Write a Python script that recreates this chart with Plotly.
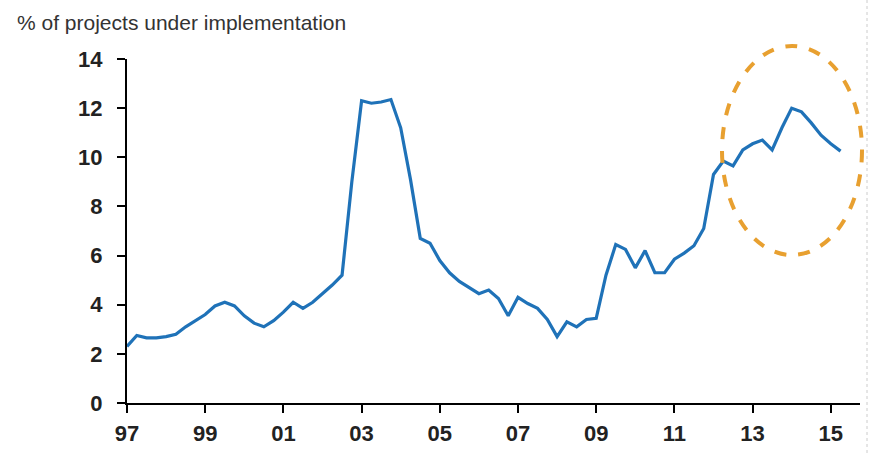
import plotly.graph_objects as go

# Quarterly data, 1997Q1 .. 2015Q2
start_year = 1997.0
values = [2.3, 2.75, 2.65, 2.65, 2.7, 2.8, 3.1, 3.35, 3.6, 3.95, 4.1, 3.95,
          3.55, 3.25, 3.1, 3.35, 3.7, 4.1, 3.85, 4.1, 4.45, 4.8, 5.2, 9.0,
          12.3, 12.2, 12.25, 12.35, 11.2, 9.1, 6.7, 6.5, 5.8, 5.3, 4.95, 4.7,
          4.45, 4.6, 4.25, 3.55, 4.3, 4.05, 3.85, 3.4, 2.7, 3.3, 3.1, 3.4,
          3.45, 5.2, 6.45, 6.25, 5.5, 6.2, 5.3, 5.3, 5.85, 6.1, 6.4, 7.1,
          9.3, 9.85, 9.65, 10.3, 10.55, 10.7, 10.3, 11.2, 12.0, 11.85, 11.4, 10.9,
          10.55, 10.25]
years = [start_year + 0.25 * i for i in range(len(values))]

tick_vals = [1997, 1999, 2001, 2003, 2005, 2007, 2009, 2011, 2013, 2015]
tick_text = ["97", "99", "01", "03", "05", "07", "09", "11", "13", "15"]
y_ticks = [0, 2, 4, 6, 8, 10, 12, 14]
title_text = "% of projects under implementation"

W, H = 871, 453
L, R, T, B = 127, 11, 59, 50
pw, ph = W - L - R, H - T - B

def px_to_paper_x(px):
    return (px - L) / pw

def px_to_paper_y(py):
    return (H - B - py) / ph

fig = go.Figure()
fig.add_trace(go.Scatter(x=years, y=values, mode="lines",
                         line=dict(color="#1f72b8", width=3.2),
                         hoverinfo="skip"))

tick_font = dict(family="Liberation Sans Narrow, Arial Narrow, Liberation Sans, Arial",
                 size=22, color="#222222", weight="bold")

fig.update_layout(
    width=W, height=H,
    margin=dict(l=L, r=R, t=T, b=B, autoexpand=False),
    paper_bgcolor="white", plot_bgcolor="white",
    showlegend=False,
    xaxis=dict(range=[1997, 1997 + (860 - 127) / 39.1],
               tickvals=tick_vals, ticktext=tick_text,
               ticks="outside", ticklen=8, tickwidth=2, tickcolor="black",
               showline=True, linecolor="black", linewidth=2,
               showgrid=False, zeroline=False, ticklabelstandoff=2,
               automargin=False, tickfont=tick_font),
    yaxis=dict(range=[0, 14], tickvals=y_ticks,
               ticks="outside", ticklen=8, tickwidth=2, tickcolor="black",
               showline=True, linecolor="black", linewidth=2,
               showgrid=False, zeroline=False, ticklabelstandoff=10,
               automargin=False, tickfont=tick_font),
)

fig.add_annotation(text=title_text, xref="paper", yref="paper",
                   x=px_to_paper_x(15), y=px_to_paper_y(22),
                   xanchor="left", yanchor="middle", showarrow=False,
                   font=dict(family="Liberation Sans Narrow, Arial Narrow, Liberation Sans, Arial",
                             size=21, color="#333333"))

# dashed highlight ellipse
fig.add_shape(type="circle", xref="paper", yref="paper",
              x0=px_to_paper_x(722), x1=px_to_paper_x(862),
              y0=px_to_paper_y(255), y1=px_to_paper_y(46),
              line=dict(color="#e8a030", width=4, dash="dash"))

# faint dotted edge on the right
fig.add_shape(type="line", xref="paper", yref="paper",
              x0=px_to_paper_x(867), x1=px_to_paper_x(867),
              y0=px_to_paper_y(0), y1=px_to_paper_y(453),
              line=dict(color="#cccccc", width=1, dash="dot"))

fig.write_html("out.html")
